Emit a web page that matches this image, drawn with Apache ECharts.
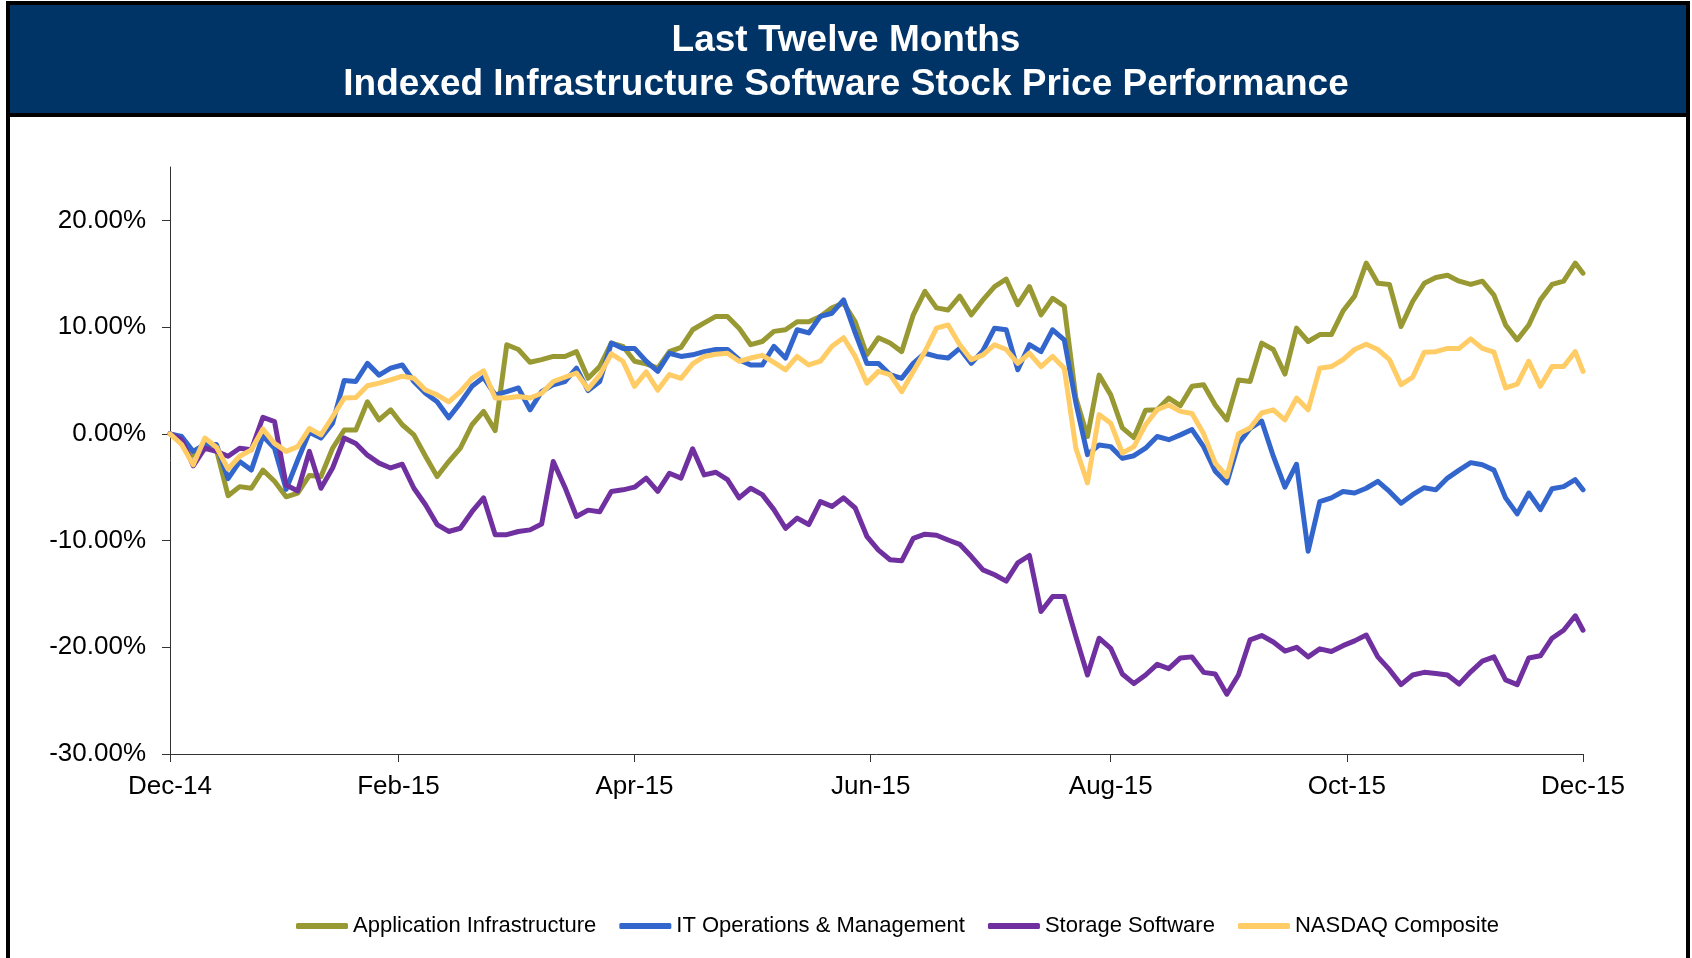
<!DOCTYPE html>
<html lang="en">

<head>
  <meta charset="utf-8">
  <title>Indexed Infrastructure Software Stock Price Performance</title>
  <script src="https://cdn.jsdelivr.net/npm/echarts@6/dist/echarts.min.js"></script>
  <style>
    html, body { margin: 0; padding: 0; background: #fff; }
    #chart { width: 1692px; height: 958px; }
  </style>
</head>

<body>
  <div id="chart"></div>

  <script type="text/javascript">
    // days after 31 Dec 2014 for each sample point
    var sampleDays = [0, 3, 6, 9, 12, 15, 18, 21, 24, 27, 30, 33, 36, 39, 42, 45, 48, 51, 54, 57,
      60, 63, 66, 69, 72, 75, 78, 81, 84, 87, 90, 93, 96, 99, 102, 105, 108, 111, 114, 117,
      120, 123, 126, 129, 132, 135, 138, 141, 144, 147, 150, 153, 156, 159, 162, 165, 168, 171, 174, 177,
      180, 183, 186, 189, 192, 195, 198, 201, 204, 207, 210, 213, 216, 219, 222, 225, 228, 231, 234, 237,
      240, 243, 246, 249, 252, 255, 258, 261, 264, 267, 270, 273, 276, 279, 282, 285, 288, 291, 294, 297,
      300, 303, 306, 309, 312, 315, 318, 321, 324, 327, 330, 333, 336, 339, 342, 345, 348, 351, 354, 357,
      360, 363, 365];

    // axis ticks (month ends) and their labels
    var tickDays = [0, 59, 120, 181, 243, 304, 365];
    var tickLabels = ['Dec-14', 'Feb-15', 'Apr-15', 'Jun-15', 'Aug-15', 'Oct-15', 'Dec-15'];
    var yTicks = [-30, -20, -10, 0, 10, 20];

    var seriesNames = ['Application Infrastructure', 'IT Operations & Management', 'Storage Software', 'NASDAQ Composite'];

    // % change vs. start
    var appInfra = [0, -0.7, -2.0, -0.8, -1.5, -5.8, -4.95, -5.1, -3.4, -4.45,
      -5.9, -5.55, -3.9, -4.0, -1.35, 0.35, 0.35, 3.0, 1.3, 2.25,
      0.85, -0.1, -2.1, -4.0, -2.6, -1.35, 0.85, 2.1, 0.3, 8.35,
      7.9, 6.7, 6.95, 7.25, 7.25, 7.7, 5.2, 6.3, 8.5, 8.2,
      6.8, 6.55, 6.15, 7.7, 8.1, 9.75, 10.4, 11.0, 11.0, 9.9,
      8.35, 8.65, 9.6, 9.75, 10.5, 10.5, 11.0, 11.8, 12.25, 10.5,
      7.4, 9.0, 8.5, 7.7, 11.15, 13.35, 11.8, 11.6, 12.9, 11.15,
      12.55, 13.8, 14.5, 12.1, 13.8, 11.15, 12.7, 11.95, 3.35, -0.25,
      5.5, 3.65, 0.55, -0.35, 2.2, 2.25, 3.35, 2.65, 4.45, 4.6,
      2.7, 1.3, 5.05, 4.9, 8.5, 7.9, 5.6, 9.9, 8.65, 9.3,
      9.3, 11.5, 12.9, 16.0, 14.1, 14.0, 10.05, 12.4, 14.1, 14.65,
      14.85, 14.3, 14.0, 14.3, 13.0, 10.2, 8.8, 10.2, 12.55, 14.0,
      14.3, 16.0, 15.05];

    var itOps = [0, -0.25, -1.65, -1.0, -1.0, -4.2, -2.6, -3.4, -0.2, -1.35,
      -5.2, -2.45, 0.15, -0.4, 1.0, 5.0, 4.9, 6.6, 5.5, 6.15,
      6.45, 4.9, 3.8, 3.0, 1.5, 2.9, 4.45, 5.3, 3.65, 3.95,
      4.3, 2.25, 3.95, 4.6, 4.9, 6.15, 4.05, 4.9, 8.5, 8.0,
      8.0, 6.8, 5.85, 7.55, 7.25, 7.4, 7.7, 7.9, 7.9, 6.95,
      6.45, 6.45, 8.2, 7.1, 9.75, 9.45, 11.0, 11.3, 12.55, 9.45,
      6.6, 6.6, 5.55, 5.2, 6.6, 7.55, 7.25, 7.1, 8.0, 6.6,
      7.8, 9.9, 9.75, 6.0, 8.35, 7.7, 9.75, 8.8, 2.9, -1.95,
      -1.05, -1.2, -2.3, -2.05, -1.35, -0.25, -0.55, -0.1, 0.4, -1.2,
      -3.5, -4.6, -0.9, 0.5, 1.2, -2.1, -5.0, -2.85, -11.0, -6.35,
      -6.0, -5.4, -5.55, -5.1, -4.45, -5.4, -6.5, -5.7, -5.05, -5.25,
      -4.15, -3.4, -2.7, -2.9, -3.4, -6.0, -7.5, -5.55, -7.1, -5.15,
      -4.95, -4.3, -5.25];

    var storage = [0, -0.55, -3.0, -1.35, -1.65, -2.1, -1.35, -1.5, 1.55, 1.15,
      -4.8, -5.35, -1.65, -5.1, -3.2, -0.4, -0.9, -2.0, -2.75, -3.2,
      -2.85, -5.1, -6.65, -8.5, -9.15, -8.85, -7.3, -6.0, -9.45, -9.45,
      -9.15, -9.0, -8.45, -2.6, -5.0, -7.75, -7.15, -7.3, -5.4, -5.25,
      -5.0, -4.15, -5.4, -3.7, -4.15, -1.4, -3.85, -3.6, -4.3, -6.0,
      -5.1, -5.7, -7.1, -8.85, -7.9, -8.5, -6.35, -6.8, -6.0, -6.95,
      -9.6, -10.9, -11.8, -11.9, -9.8, -9.4, -9.5, -9.95, -10.35, -11.5,
      -12.75, -13.2, -13.8, -12.1, -11.4, -16.65, -15.25, -15.25, -19.0, -22.6,
      -19.15, -20.1, -22.5, -23.4, -22.6, -21.6, -22.0, -21.0, -20.9, -22.35,
      -22.5, -24.4, -22.6, -19.3, -18.9, -19.5, -20.35, -20.0, -20.9, -20.15,
      -20.4, -19.85, -19.4, -18.85, -20.9, -22.1, -23.5, -22.6, -22.35, -22.45,
      -22.6, -23.45, -22.3, -21.3, -20.9, -23.05, -23.5, -21.0, -20.8, -19.15,
      -18.4, -17.05, -18.4];

    var nasdaq = [0, -1.0, -2.9, -0.4, -1.25, -3.3, -2.1, -1.5, 0.45, -0.9,
      -1.65, -1.2, 0.5, -0.1, 1.6, 3.35, 3.4, 4.5, 4.75, 5.05,
      5.4, 5.2, 4.1, 3.65, 3.0, 3.95, 5.2, 5.9, 3.35, 3.35,
      3.5, 3.35, 3.8, 4.9, 5.3, 5.7, 4.2, 5.5, 7.5, 6.8,
      4.45, 5.8, 4.1, 5.55, 5.2, 6.55, 7.25, 7.45, 7.55, 6.8,
      7.1, 7.35, 6.7, 6.0, 7.25, 6.45, 6.8, 8.2, 9.0, 7.25,
      4.75, 5.85, 5.55, 3.95, 5.85, 7.7, 9.9, 10.2, 8.35, 6.95,
      7.4, 8.35, 7.9, 6.6, 7.55, 6.3, 7.25, 6.15, -1.35, -4.6,
      1.8, 1.0, -1.8, -1.2, 0.85, 2.25, 2.7, 2.1, 1.9, 0.0,
      -2.75, -4.0, 0.0, 0.55, 1.95, 2.25, 1.3, 3.35, 2.25, 6.15,
      6.3, 6.95, 7.9, 8.4, 7.9, 6.95, 4.6, 5.3, 7.65, 7.7,
      8.0, 8.0, 8.9, 8.0, 7.65, 4.3, 4.65, 6.8, 4.45, 6.3,
      6.3, 7.7, 5.85];

    var colors = ['#999933', '#3366CC', '#7030A0', '#FFCC66'];
    var fontFam = '"Liberation Sans", Arial, sans-serif';

    function pairs(vals) {
      return vals.map(function (v, i) { return [sampleDays[i], v]; });
    }

    var chart = echarts.init(document.getElementById('chart'));

    var option = {
      animation: false,
      color: colors,
      textStyle: { fontFamily: fontFam },
      title: {
        text: 'Last Twelve Months\nIndexed Infrastructure Software Stock Price Performance',
        left: 'center',
        top: 14,
        textStyle: {
          color: '#fff',
          fontSize: 37,
          fontWeight: 'bold',
          lineHeight: 44,
          fontFamily: fontFam
        }
      },
      // navy title band + black frame
      graphic: [
        {
          type: 'rect', z: 0,
          shape: { x: 8, y: 3, width: 1680, height: 112 },
          style: { fill: '#003366', stroke: '#000', lineWidth: 4 }
        },
        {
          type: 'rect', z: 0,
          shape: { x: 8, y: 3, width: 1680, height: 1000 },
          style: { fill: 'none', stroke: '#000', lineWidth: 4 }
        }
      ],
      legend: {
        left: 291,
        top: 910,
        icon: 'roundRect',
        itemWidth: 52,
        itemHeight: 6,
        itemGap: 23,
        textStyle: { fontSize: 22, color: '#000', fontFamily: fontFam },
        data: seriesNames
      },
      grid: { left: 170, right: 109, top: 167, bottom: 204 },
      xAxis: {
        type: 'value',
        min: 0,
        max: 365,
        splitLine: { show: false },
        axisLine: { onZero: false, lineStyle: { color: '#333', width: 1 } },
        axisTick: { show: true, length: 8, customValues: tickDays, lineStyle: { color: '#333' } },
        axisLabel: {
          customValues: tickDays,
          margin: 20,
          fontSize: 26,
          color: '#000',
          formatter: function (v) {
            var i = tickDays.indexOf(v);
            return i >= 0 ? tickLabels[i] : '';
          }
        }
      },
      yAxis: {
        type: 'value',
        min: -30,
        max: 25,
        interval: 10,
        splitLine: { show: false },
        axisLine: { show: true, onZero: false, lineStyle: { color: '#333', width: 1 } },
        axisTick: { show: true, length: 8, customValues: yTicks, lineStyle: { color: '#333' } },
        axisLabel: {
          customValues: yTicks,
          margin: 24,
          fontSize: 26,
          color: '#000',
          formatter: function (v) { return v.toFixed(2) + '%'; }
        }
      },
      series: [
        { name: seriesNames[0], data: pairs(appInfra) },
        { name: seriesNames[1], data: pairs(itOps) },
        { name: seriesNames[2], data: pairs(storage) },
        { name: seriesNames[3], data: pairs(nasdaq) }
      ].map(function (s, i) {
        return {
          name: s.name,
          type: 'line',
          data: s.data,
          showSymbol: false,
          symbol: 'none',
          lineStyle: { width: 5, color: colors[i], join: 'round', cap: 'round' }
        };
      })
    };

    chart.setOption(option);

    window.onresize = function () {
      chart.resize();
    };
  </script>
</body>

</html>
